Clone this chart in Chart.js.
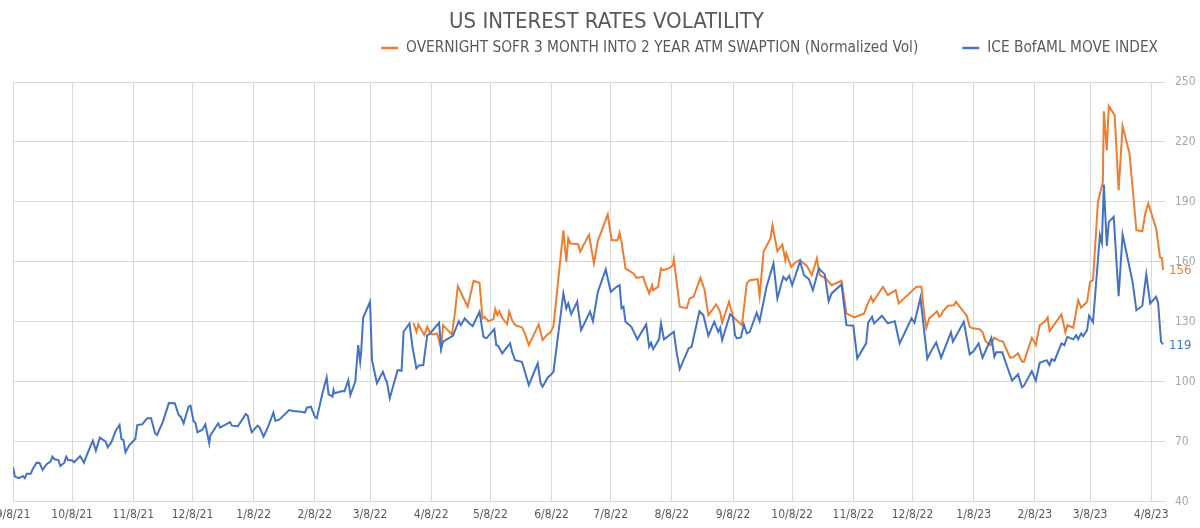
<!DOCTYPE html>
<html>
<head>
<meta charset="utf-8">
<title>US Interest Rates Volatility</title>
<script src="https://cdn.jsdelivr.net/npm/chart.js@4.4.1/dist/chart.umd.min.js"></script>
<style>
    html, body { margin: 0; padding: 0; background: #ffffff; }
    #wrap { width: 1200px; height: 528px; position: relative; }
</style>
</head>
<body>
<div id="wrap"><canvas id="volChart"></canvas></div>
<script>
// Day offsets are counted from 9/8/21
const tickDays = [0, 30, 61, 91, 122, 153, 181, 212, 242, 273, 303, 334, 365, 395, 426, 456, 487, 518, 546, 577];
const tickLabels = ['9/8/21', '10/8/21', '11/8/21', '12/8/21', '1/8/22', '2/8/22', '3/8/22', '4/8/22', '5/8/22', '6/8/22',
    '7/8/22', '8/8/22', '9/8/22', '10/8/22', '11/8/22', '12/8/22', '1/8/23', '2/8/23', '3/8/23', '4/8/23'];

// ICE BofAML MOVE index
const moveDays = [0, 1, 3, 5, 6, 7, 9, 10, 12, 13.5, 15, 17, 19, 20, 21, 23, 24, 26, 27, 28, 30, 31, 34, 36, 38, 40.5, 42, 44, 47, 48,
    50, 52, 54, 55, 56, 57, 59, 62, 63, 65.5, 68, 70, 72, 73, 76, 79, 82, 84, 85, 86.5, 89, 90, 91.5, 92.5, 93.5, 96, 97.5, 99.5, 100, 104,
    105, 110, 111, 114, 118, 119, 120, 121, 124, 125, 127, 129, 132, 133, 135, 140, 142, 146, 148, 149, 151, 153, 154, 157, 159, 160, 162, 162.5, 163, 167,
    168, 170, 171, 173.5, 175, 176, 176.5, 177.5, 181, 182, 184.5, 187.5, 189, 189.5, 191, 195, 197, 198, 201, 202.5, 204.5, 206, 208, 210,
    211, 216, 217, 218, 223, 226, 227, 229, 231, 233, 236.5, 238.5, 240, 244, 245, 246, 248, 252, 253, 254.5, 258, 261.5, 266, 267.5,
    268.5, 271, 272.5, 274, 279, 280.5, 281.5, 283, 286, 288, 292.5, 294, 296.5, 300.5, 303, 306, 307.5, 308.5, 309.5, 310.5, 313.5, 316.5,
    321, 322.5, 323.5, 324.5, 327.5, 328.5, 330, 335, 336.5, 338, 342.5, 344, 348, 350, 352.5, 355.5, 357.5, 358.5, 359.5, 363.5, 365, 366,
    367, 369, 370.5, 372, 373.5, 377, 378.5, 382, 385.5, 387.5, 390.5, 392, 393.5, 395, 399, 401, 403.5, 405.5, 408.5, 411.5, 413.5, 415,
    420, 422.5, 426, 428, 432.5, 433.5, 435.5, 436.5, 440.5, 443.5, 447, 449.5, 455.5, 457, 460, 463.5, 465, 468, 470.5, 475.5, 476.5, 482,
    485, 487, 489.5, 491.5, 496, 497.5, 498.5, 501.5, 504, 506.5, 509.5, 511.5, 512.5, 516.5, 518.5, 520.5, 524, 525.5, 526.5, 528, 531.5,
    533, 534.5, 537.5, 539, 540, 541.5, 542.5, 544.5, 545.5, 547.5, 551, 552, 553, 554.5, 555.5, 558, 560.5, 562.5, 567.5, 569.5, 572.5,
    574.5, 576.5, 579.5, 580.5, 582, 583];
const moveValues = [57.2, 52.5, 51.7, 52.8, 51.7, 54, 54, 56.3, 59.5, 59.3, 55.8, 58.7, 60, 62.5, 61.2, 60.8, 57.8, 59.5, 62.5, 60.7, 60.7, 59.7, 62.8, 59.5, 64.7, 70.5, 65.5, 72, 70, 67.2,
    70, 75.3, 78.3, 71.3, 70.8, 64.7, 68.3, 71.3, 78.3, 78.7, 81.7, 81.7, 74.2, 73.3, 80, 89.3, 89.2, 83.3, 82.5, 79.2, 87.5, 88, 80.3, 79.3, 74.7, 76, 78.7, 69.2, 73, 79.2,
    77, 79.8, 78, 77.7, 83.8, 83, 78.3, 74.7, 78, 77.2, 72.5, 76.7, 84.5, 80.5, 81, 85.8, 85.3, 85, 84.5, 87, 87.5, 82.5, 81.7, 94.7, 102.2, 93.7, 92.5, 95.8, 94.2, 95.3,
    95.2, 100.7, 93.3, 100, 118.3, 110, 115, 132, 140, 110.8, 99.2, 105, 100.8, 100.3, 91.7, 105.8, 105.5, 125, 129.2, 117.5, 106.7, 108.3, 108.3, 123.3,
    123.7, 129.5, 116.3, 120, 123, 130.3, 128.3, 131.7, 129.5, 127.8, 135, 122.5, 121.7, 126.3, 118.3, 118, 114.2, 119.2, 115, 110.8, 110, 98.3, 109.2, 99.2,
    97.5, 102, 103.3, 105, 144.2, 136.7, 139.2, 133.8, 140, 125.8, 135, 130.3, 145, 156.2, 145, 147.5, 148.3, 136.7, 137.5, 130, 127.5, 121.2,
    128.7, 117.5, 119.5, 116.3, 121.2, 129.2, 121.2, 125, 114.2, 106.3, 116.7, 117.5, 135.3, 133.3, 123, 130, 125, 127, 120.8, 133.7, 132.5, 123.3,
    121.7, 122.2, 128.7, 124.2, 125, 134.5, 130.3, 147.5, 159.2, 141.7, 152.5, 150.8, 153, 148.3, 160.3, 153.3, 151.3, 145.8, 156.7, 153.7, 140.3, 144.2,
    148.7, 128.3, 128, 111.7, 119.2, 129.5, 132.5, 129.2, 133, 129.2, 130.3, 119.2, 131.7, 129.5, 142, 111.5, 114.5, 119.7, 112, 124.7, 120, 130,
    113.7, 115.3, 119.2, 112, 122, 112.5, 114.7, 114.7, 107.5, 100.5, 103.7, 97.2, 98, 105.3, 100.5, 109.5, 110.8, 108.3, 111.3, 110.5, 119.2,
    118.3, 122.5, 121.2, 123.3, 121.3, 124.2, 122.8, 125.8, 133, 129.7, 173.3, 169.5, 198.7, 168, 180, 182.5, 142.8, 173.7, 150.3, 135.8, 138,
    153.8, 139.2, 142.5, 139.5, 120, 118.7];

// Overnight SOFR 3m into 2y ATM swaption, normalized vol
const sofrDays = [203, 204.5, 205.5, 208.5, 210, 211.5, 213, 215, 217, 218, 222.5, 224, 225.5, 230.5, 233.5, 236.5, 238, 239, 241, 243.5,
    244.5, 245.5, 246.5, 248, 250.5, 251.5, 253, 254.5, 258, 259.5, 261.5, 266.5, 268.5, 270.5, 272.5, 274, 279, 280.5, 281.5, 282.5,
    286.5, 287.5, 292, 294.5, 296.5, 301.5, 303.5, 306.5, 307.5, 308.5, 310.5, 314.5, 316, 319.5, 320.5, 322.5, 324, 324.5, 327, 328.5,
    329.5, 332.5, 334.5, 335, 338, 341.5, 343, 345, 348.5, 350.5, 352.5, 356.5, 358.5, 359.5, 363, 365, 369.5, 372, 373.5, 377.5,
    378.5, 380.5, 384, 385, 387.5, 390, 391.5, 392, 394.5, 397, 399, 401, 402.5, 405, 407.5, 409, 412, 415, 420, 422.5,
    426.5, 431.5, 433, 435, 436, 441, 443.5, 447.5, 449, 458, 460.5, 462, 463, 464.5, 468.5, 469.5, 470.5, 471.5, 474, 477,
    478, 482, 483.5, 485, 486.5, 490, 491.5, 493, 495.5, 497.5, 499.5, 502, 503, 505.5, 507, 509.5, 511.5, 512.5, 516.5, 518.5,
    520.5, 523, 524.5, 525.5, 531.5, 533.5, 534.5, 537.5, 540, 541.5, 544.5, 546, 547.5, 550, 552.5, 553, 554.5, 555.5, 558.5, 560.5,
    562.5, 566, 569.5, 572.5, 574, 575.5, 579.5, 581.5, 582.5, 583];
const sofrValues = [129.5, 125, 128.7, 123.3, 127.5, 124.2, 123.7, 124.2, 116.7, 128.3, 123.7, 134.2, 147.8, 137.5, 150.5, 149.5, 131.7, 132.5, 130.3, 131.2,
    136.3, 133.3, 135.3, 132, 128.8, 135, 130.8, 128.3, 127.2, 124.2, 118.3, 128.7, 120.8, 123.3, 124.7, 127.8, 175.8, 160, 171.7, 169.2,
    168.8, 165, 173.5, 159.2, 170.5, 183.7, 170.8, 170.8, 174.5, 170, 156.7, 154.2, 152, 152.5, 149.2, 144.2, 148.3, 145.8, 147.5, 156.7,
    155.8, 156.7, 158.3, 161.2, 137.5, 136.7, 141.7, 142.5, 152, 146.3, 133.3, 138.7, 134.7, 129.5, 140, 132.5, 128.3, 149.2, 150.8, 151.3,
    143, 165, 171.7, 178.3, 165.3, 168.7, 160.8, 164.2, 157.5, 160, 160.8, 159.2, 157.8, 153.3, 161.7, 153.3, 151.7, 148.3, 150.5, 134.2,
    132.2, 134.2, 138.3, 142.5, 140, 147.5, 143.3, 145.8, 139.2, 147.5, 147.5, 133.3, 127, 131.7, 135.3, 132.5, 133.3, 135.3, 138, 138.3,
    140, 135, 133, 127.5, 126.7, 126.3, 124.7, 120.3, 118.3, 122, 120.8, 120, 117.5, 112, 112.2, 114.2, 110, 110, 122, 118.3,
    128.3, 130, 132.2, 125.3, 133.7, 124.7, 128.3, 127, 140.8, 137, 140, 150, 150.8, 190, 200, 235.3, 215.8, 238, 233.3, 195.8,
    228, 214.2, 175.8, 175.3, 184.2, 189.2, 176.7, 162.2, 161.7, 156];

const ORANGE = '#ed7d31';
const BLUE = '#4472c4';
const FONT = "'Liberation Sans Narrow', 'DejaVu Sans Condensed', 'Roboto Condensed', 'Liberation Sans', sans-serif";

function toPoints(days, values) {
    return days.map((d, i) => ({ x: d, y: values[i] }));
}

// Legend drawn as short line samples, right-aligned above the plot
const lineLegend = {
    id: 'lineLegend',
    afterDraw(chart) {
        const ctx = chart.ctx;
        const items = [chart.data.datasets[0], chart.data.datasets[1]];
        const y = 48;
        ctx.save();
        ctx.font = '15.3px ' + FONT;
        ctx.textBaseline = 'middle';
        ctx.textAlign = 'left';
        let right = 1158;
        for (let i = items.length - 1; i >= 0; i--) {
            const ds = items[i];
            const w = ctx.measureText(ds.label).width;
            const textX = right - w;
            ctx.fillStyle = '#595959';
            ctx.fillText(ds.label, textX, y);
            ctx.strokeStyle = ds.borderColor;
            ctx.lineWidth = 2.5;
            ctx.beginPath();
            ctx.moveTo(textX - 25, y);
            ctx.lineTo(textX - 8, y);
            ctx.stroke();
            right = textX - 25 - 44;
        }
        ctx.restore();
    }
};

// Last value printed next to the end of each line
const endLabels = {
    id: 'endLabels',
    afterDatasetsDraw(chart) {
        const ctx = chart.ctx;
        ctx.save();
        ctx.font = '13px ' + FONT;
        ctx.textBaseline = 'middle';
        ctx.textAlign = 'left';
        chart.data.datasets.forEach((ds, i) => {
            const pts = chart.getDatasetMeta(i).data;
            const last = pts[pts.length - 1];
            ctx.fillStyle = ds.borderColor;
            ctx.fillText(Math.round(ds.data[ds.data.length - 1].y), last.x + 6, last.y + 1);
        });
        ctx.restore();
    }
};

const ctx = document.getElementById('volChart').getContext('2d');
new Chart(ctx, {
    type: 'line',
    data: {
        datasets: [
            {
                label: 'OVERNIGHT SOFR 3 MONTH INTO 2 YEAR ATM SWAPTION (Normalized Vol)',
                data: toPoints(sofrDays, sofrValues),
                borderColor: ORANGE,
                backgroundColor: ORANGE,
                borderWidth: 2,
                pointRadius: 0,
                tension: 0,
                order: 1
            },
            {
                label: 'ICE BofAML MOVE INDEX',
                data: toPoints(moveDays, moveValues),
                borderColor: BLUE,
                backgroundColor: BLUE,
                borderWidth: 2,
                pointRadius: 0,
                tension: 0,
                order: 0
            }
        ]
    },
    options: {
        responsive: true,
        maintainAspectRatio: false,
        animation: false,
        layout: {
            padding: { left: 13, right: 0, top: 0, bottom: 0 }
        },
        plugins: {
            legend: { display: false },
            tooltip: { enabled: false },
            title: {
                display: true,
                text: 'US INTEREST RATES VOLATILITY',
                color: '#595959',
                font: { family: FONT, size: 22, weight: 'normal' },
                padding: { top: 9, bottom: 46.6 }
            }
        },
        scales: {
            x: {
                type: 'linear',
                min: 0,
                max: 584,
                afterBuildTicks: (scale) => {
                    scale.ticks = tickDays.map(d => ({ value: d }));
                },
                afterFit: (scale) => {
                    scale.paddingLeft = 0;
                    scale.paddingRight = 0;
                },
                ticks: {
                    autoSkip: false,
                    maxRotation: 0,
                    padding: 6,
                    color: '#595959',
                    font: { family: FONT, size: 12 },
                    callback: (value) => tickLabels[tickDays.indexOf(value)]
                },
                grid: { color: '#d9d9d9', drawTicks: false },
                border: { color: '#d9d9d9' }
            },
            y: {
                position: 'right',
                min: 40,
                max: 250,
                afterFit: (scale) => {
                    scale.width = 35;
                },
                ticks: {
                    stepSize: 30,
                    padding: 10,
                    color: '#a6a6a6',
                    font: { family: FONT, size: 12 }
                },
                grid: { color: '#d9d9d9', drawTicks: false },
                border: { display: false }
            }
        }
    },
    plugins: [lineLegend, endLabels]
});
</script>
</body>
</html>
